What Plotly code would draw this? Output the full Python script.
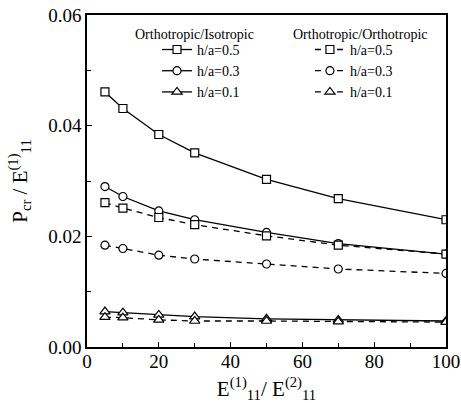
import plotly.graph_objects as go

ratio = [5, 10, 20, 30, 50, 70, 100]

iso_h05 = [0.0461, 0.0431, 0.0384, 0.0351, 0.0303, 0.0268, 0.0230]
iso_h03 = [0.0290, 0.0272, 0.0246, 0.0230, 0.0207, 0.0187, 0.0168]
iso_h01 = [0.0064, 0.0062, 0.0058, 0.0055, 0.0051, 0.0049, 0.0047]

ort_h05 = [0.0261, 0.0251, 0.0234, 0.0221, 0.0201, 0.0184, 0.0168]
ort_h03 = [0.0184, 0.0178, 0.0166, 0.0159, 0.0150, 0.0141, 0.0133]
ort_h01 = [0.0054, 0.0053, 0.0049, 0.0047, 0.0047, 0.0046, 0.0045]

labels = ["h/a=0.5", "h/a=0.3", "h/a=0.1"]
group_titles = ["Orthotropic/Isotropic", "Orthotropic/Orthotropic"]
symbols = ["square", "circle", "triangle-up"]
sizes = [8, 8, 9]

FONT = "Liberation Serif, Times New Roman, serif"
fig = go.Figure()

for vals, lab, sym, sz in zip([iso_h05, iso_h03, iso_h01], labels, symbols, sizes):
    fig.add_trace(go.Scatter(
        x=ratio, y=vals, name=lab, mode="lines+markers",
        line=dict(color="black", width=1.3),
        marker=dict(symbol=sym, size=sz, color="white", line=dict(color="black", width=1.2)),
        legend="legend",
    ))

for vals, lab, sym, sz in zip([ort_h05, ort_h03, ort_h01], labels, symbols, sizes):
    fig.add_trace(go.Scatter(
        x=ratio, y=vals, name=lab, mode="lines+markers",
        line=dict(color="black", width=1.3, dash="6px,5px"),
        marker=dict(symbol=sym, size=sz, color="white", line=dict(color="black", width=1.2)),
        legend="legend2",
    ))

axis_common = dict(
    showline=True, linecolor="black", linewidth=1.5, mirror=True,
    ticks="inside", ticklen=5, tickwidth=1.2, tickcolor="black",
    showgrid=False, zeroline=False, automargin=False,
    tickfont=dict(family=FONT, size=19, color="black"),
)

fig.update_xaxes(
    range=[0, 100], tick0=0, dtick=20, ticklabelstandoff=-4,
    minor=dict(ticks="inside", dtick=10, ticklen=4, tickcolor="black", tickwidth=1.2),
    title=dict(text="E<sup>(1)</sup><sub>11</sub>/ E<sup>(2)</sup><sub>11</sub>",
               font=dict(family=FONT, size=21, color="black")),
    **axis_common,
)
fig.update_yaxes(
    range=[0, 0.06], tick0=0, dtick=0.02, tickformat=".2f",
    minor=dict(ticks="inside", dtick=0.01, ticklen=4, tickcolor="black", tickwidth=1.2),
    title=dict(text="P<sub>cr</sub> / E<sup>(1)</sup><sub>11</sub>",
               font=dict(family=FONT, size=21, color="black")),
    **axis_common,
)

legend_common = dict(
    bgcolor="rgba(0,0,0,0)", borderwidth=0,
    font=dict(family=FONT, size=14, color="black"),
    xanchor="left", yanchor="top", itemwidth=30, tracegroupgap=0,
)

fig.update_layout(
    width=461, height=403,
    margin=dict(l=87, r=15, t=15, b=56),
    plot_bgcolor="white", paper_bgcolor="white",
    legend=dict(x=0.195, y=0.943, **legend_common),
    legend2=dict(x=0.621, y=0.943, **legend_common),
    annotations=[
        dict(text=group_titles[0], x=0.128, y=0.94, xref="paper", yref="paper",
             xanchor="left", yanchor="middle", showarrow=False,
             font=dict(family=FONT, size=14, color="black")),
        dict(text=group_titles[1], x=0.568, y=0.94, xref="paper", yref="paper",
             xanchor="left", yanchor="middle", showarrow=False,
             font=dict(family=FONT, size=14, color="black")),
    ],
)

fig.write_html("out.html")
